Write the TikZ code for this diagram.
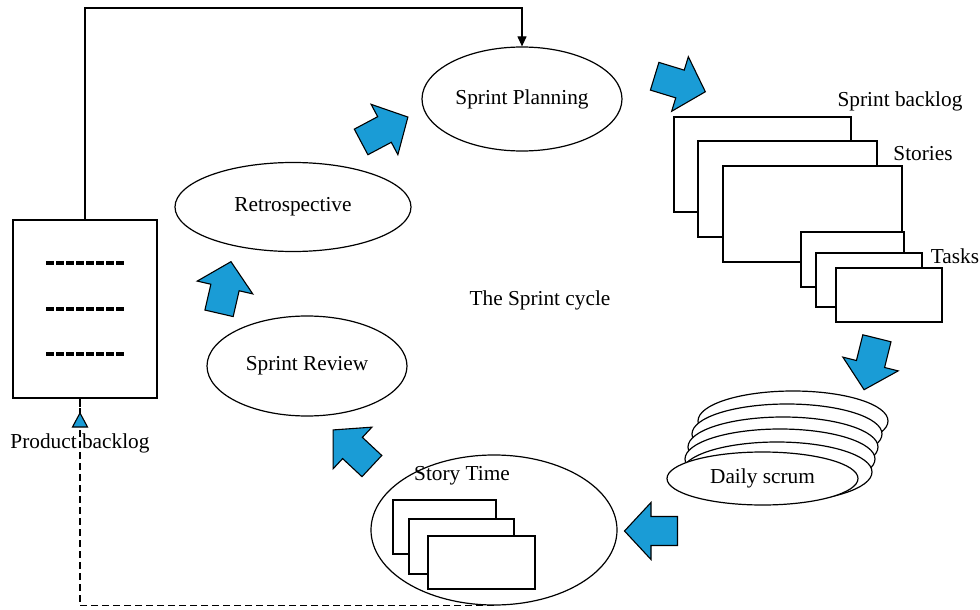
\documentclass[tikz,border=0pt]{standalone}
\usepackage{fontspec}
\setmainfont{Liberation Serif}
\usetikzlibrary{shapes.geometric,arrows.meta}

\definecolor{arrowblue}{RGB}{26,156,214}

\tikzset{
  lbl/.style={font=\fontsize{21.3}{25}\selectfont, inner sep=0pt},
  phase/.style={ellipse, draw, line width=1.2pt, fill=white, inner sep=0pt,
                font=\fontsize{21.3}{25}\selectfont},
  card/.style={rectangle, draw, line width=1.3pt, fill=white, inner sep=0pt},
  bigarrow/.style={draw=black, line width=1.1pt, fill=arrowblue, line join=miter},
  fatarrow/.pic={
    \draw[bigarrow] (-26.5,-14.5) -- (0,-14.5) -- (0,-28.5) -- (26.5,0)
      -- (0,28.5) -- (0,14.5) -- (-26.5,14.5) -- cycle;
  },
  link/.style={line width=1.1pt},
  dashlink/.style={line width=1.1pt, dash pattern=on 7pt off 4pt},
  itemline/.style={line width=3.2pt, dash pattern=on 7.5pt off 2.5pt},
}

\begin{document}
\begin{tikzpicture}[x=1pt,y=-1pt]
\useasboundingbox (0,0) rectangle (980,610);

% product backlog
\node[card, minimum width=144pt, minimum height=178pt] (pb) at (85,309) {};
\node[lbl] (pblabel) at (80,443) {Product backlog};
\foreach \y/\n in {263/a,309/b,354/c}
  \draw[itemline] (46,\y) coordinate (it\n) -- (124,\y);

% sprint phases
\node[phase, minimum width=200pt, minimum height=104pt] (plan) at (522,99) {Sprint Planning};
\node[phase, minimum width=236pt, minimum height=89pt] (retro) at (293,207) {Retrospective};
\node[phase, minimum width=200pt, minimum height=100pt] (review) at (307,366) {Sprint Review};

% story time with its story cards
\node[phase, minimum width=246pt, minimum height=150pt] (story) at (494,530) {};
\node[lbl] (storylabel) at (462,476) {Story Time};
\node[card, minimum width=103pt, minimum height=54pt] (sc1) at (444.5,527) {};
\node[card, minimum width=105pt, minimum height=55pt] (sc2) at (461.5,546.5) {};
\node[card, minimum width=107pt, minimum height=53pt] (sc3) at (481.5,562.5) {};

% daily scrum as a stack of meetings
\foreach \cx/\cy/\n in {793/421/5,787/434/4,783/447/3,780/459/2,777/472/1}
  \node[phase, minimum width=190pt, minimum height=60pt] (ds\n) at (\cx,\cy) {};
\node[phase, minimum width=191pt, minimum height=53pt] (daily) at (762.5,478.5) {Daily scrum};

% sprint backlog: stories and tasks
\node[card, minimum width=177pt, minimum height=95pt] (sbA) at (762.5,164.5) {};
\node[card, minimum width=179pt, minimum height=96pt] (sbB) at (787.5,189) {};
\node[card, minimum width=179pt, minimum height=96pt] (sbC) at (812.5,214) {};
\node[card, minimum width=103pt, minimum height=55pt] (tk1) at (852.5,259.5) {};
\node[card, minimum width=106pt, minimum height=54pt] (tk2) at (869,280) {};
\node[card, minimum width=106pt, minimum height=54pt] (tk3) at (889,295) {};
\node[lbl] (sblabel) at (900,101) {Sprint backlog};
\node[lbl] (storieslabel) at (923,154) {Stories};
\node[lbl] (taskslabel) at (955,256) {Tasks};

\node[lbl] (cycle) at (540,300) {The Sprint cycle};

% cycle arrows
\pic[rotate=-17] at (680,84) {fatarrow};
\pic[rotate=-104] at (870.5,364) {fatarrow};
\pic[rotate=180] at (651,531) {fatarrow};
\pic[rotate=137] at (352.5,448) {fatarrow};
\pic[rotate=77] at (225,287.5) {fatarrow};
\pic[rotate=28] at (384.5,129.5) {fatarrow};

% product backlog feeds sprint planning
\coordinate (topcorner) at (85,8);
\draw[link, -{Triangle[length=10pt,width=9pt]}] (pb.north) -- (topcorner) -| (plan.north);

% finished stories flow back to the product backlog
\coordinate (pbin) at (80,398);
\coordinate (pbtip) at (80,413);
\draw[dashlink] (story.south) -| ([yshift=14pt]pbtip);
\draw[link] (pbin) -- ++(0,9);
\draw[line width=1.1pt, fill=arrowblue] (pbtip) -- ++(7.5,14) -- ++(-15,0) -- cycle;
\end{tikzpicture}
\end{document}
